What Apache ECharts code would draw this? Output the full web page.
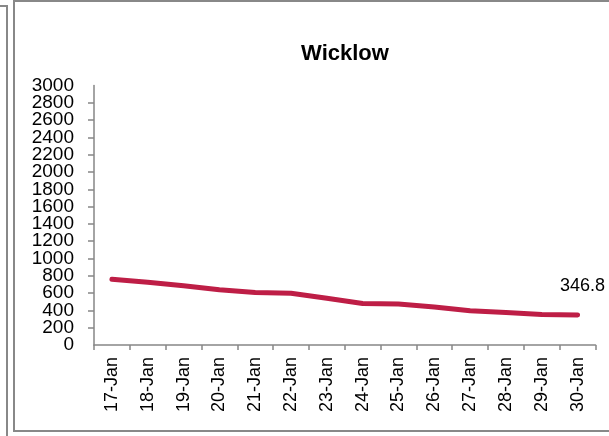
<!DOCTYPE html>
<html>
<head>
<meta charset="utf-8">
<script src="https://cdn.jsdelivr.net/npm/echarts@6/dist/echarts.min.js"></script>
<style>
    html, body { margin: 0; padding: 0; background: #fff; }
    #chart { width: 609px; height: 436px; }
</style>
</head>
<body>
<div id="chart"></div>
<script>
// values
const days = ['17-Jan', '18-Jan', '19-Jan', '20-Jan', '21-Jan', '22-Jan', '23-Jan',
    '24-Jan', '25-Jan', '26-Jan', '27-Jan', '28-Jan', '29-Jan', '30-Jan'];
const wicklow = [760, 725, 685, 640, 608, 598, 540, 480, 474, 440, 395, 375, 352, 346.8];
const yMin = 0;
const yMax = 3000;
const yStep = 200;

const font = 'Liberation Sans';
const labelStyle = {
    margin: 20,
    hideOverlap: false,
    formatter: function (v) { return String(v); },
    fontFamily: font,
    fontSize: 19,
    color: '#000'
};

let chart = echarts.init(document.getElementById('chart'), null, {renderer: 'canvas'});
const option = {
    backgroundColor: '#fff',
    animation: false,
    title: {
        text: 'Wicklow',
        left: 340,
        top: 38,
        textAlign: 'center',
        textStyle: {fontFamily: font, fontSize: 22, fontWeight: 'bold', color: '#000'}
    },
    grid: {
        left: 94,
        right: 13.5,
        top: 85.5,
        bottom: 91,
        containLabel: false
    },
    xAxis: {
        type: 'category',
        data: days,
        boundaryGap: true,
        axisLine: {lineStyle: {color: '#868686', width: 1.5}},
        axisTick: {show: true, length: 5, lineStyle: {color: '#868686', width: 1.5}},
        axisLabel: {
            rotate: 90,
            margin: 12,
            interval: 0,
            fontFamily: font,
            fontSize: 18,
            color: '#000'
        }
    },
    yAxis: [
        {
            // inner labels 200..2800
            type: 'value',
            position: 'left',
            min: yMin,
            max: yMax,
            interval: yStep,
            splitLine: {show: false},
            axisLine: {show: true, lineStyle: {color: '#868686', width: 1.5}},
            axisTick: {show: true, length: 6, lineStyle: {color: '#868686', width: 1.5}},
            axisLabel: Object.assign({showMinLabel: false, showMaxLabel: false}, labelStyle)
        },
        {
            // just 0 and 3000, kept apart so they are not dropped as overlapping
            type: 'value',
            position: 'left',
            offset: 0,
            min: yMin,
            max: yMax,
            interval: yMax,
            splitLine: {show: false},
            axisLine: {show: false},
            axisTick: {show: false},
            axisLabel: Object.assign({showMinLabel: true, showMaxLabel: true}, labelStyle)
        }
    ],
    series: [
        {
            name: 'Wicklow',
            type: 'line',
            yAxisIndex: 0,
            data: wicklow.map(function (v, i) {
                if (i === wicklow.length - 1) {
                    return {
                        value: v,
                        label: {
                            show: true,
                            position: 'top',
                            distance: 20,
                            offset: [5, 0],
                            fontFamily: font,
                            fontSize: 18,
                            color: '#000'
                        }
                    };
                }
                return v;
            }),
            showSymbol: true,
            symbol: 'circle',
            symbolSize: 0,
            smooth: false,
            lineStyle: {color: '#be1e46', width: 5, cap: 'round', join: 'round'},
            itemStyle: {color: '#be1e46'},
            label: {show: false}
        }
    ],
    graphic: [
        {
            type: 'rect',
            shape: {x: 14, y: 1, width: 620, height: 430},
            style: {fill: null, stroke: '#888', lineWidth: 2},
            silent: true
        },
        {
            type: 'polyline',
            shape: {points: [[0, 6], [7, 6], [7, 440]]},
            style: {fill: null, stroke: '#888', lineWidth: 2},
            silent: true
        }
    ]
};

chart.setOption(option);

window.addEventListener('resize', function () {
    chart.resize();
});
</script>
</body>
</html>
